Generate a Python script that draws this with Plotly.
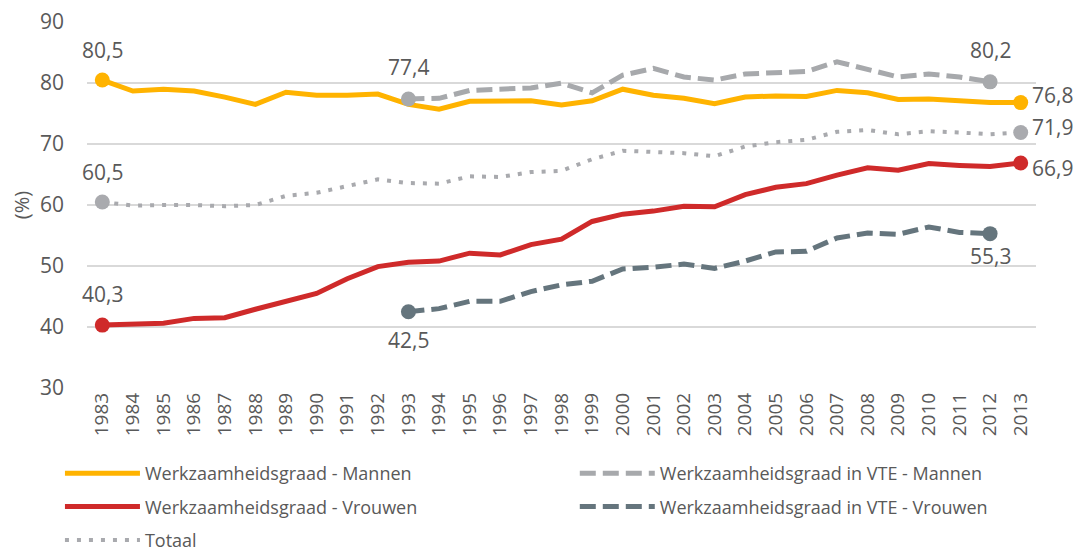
import plotly.graph_objects as go

years = [str(y) for y in range(1983, 2014)]
years_vte = [str(y) for y in range(1993, 2013)]

mannen = [80.5, 78.7, 79.0, 78.7, 77.7, 76.5, 78.5, 78.0, 78.0, 78.2, 76.5, 75.7, 77.0, 77.0, 77.1, 76.4, 77.1,
          79.0, 78.0, 77.5, 76.6, 77.7, 77.9, 77.8, 78.8, 78.4, 77.3, 77.4, 77.1, 76.8, 76.8]
vrouwen = [40.3, 40.5, 40.6, 41.4, 41.5, 42.9, 44.1, 45.5, 47.9, 49.9, 50.6, 50.8, 52.1, 51.8, 53.5, 54.4, 57.3,
           58.5, 59.0, 59.8, 59.7, 61.7, 62.9, 63.5, 64.9, 66.1, 65.7, 66.8, 66.5, 66.3, 66.9]
totaal = [60.5, 59.9, 60.0, 60.0, 59.8, 60.0, 61.5, 62.0, 63.1, 64.2, 63.6, 63.5, 64.7, 64.6, 65.4, 65.6, 67.5,
          68.9, 68.7, 68.5, 68.0, 69.6, 70.3, 70.7, 72.0, 72.3, 71.6, 72.1, 71.9, 71.6, 71.9]
vte_mannen = [77.4, 77.5, 78.8, 79.1, 79.2, 80.0, 78.4, 81.3, 82.4, 81.0, 80.5, 81.5, 81.6, 81.9, 83.5, 82.2,
              81.0, 81.5, 81.0, 80.2]
vte_vrouwen = [42.5, 43.0, 44.2, 44.2, 45.8, 46.9, 47.5, 49.5, 49.8, 50.3, 49.6, 50.8, 52.3, 52.4, 54.6, 55.4,
               55.2, 56.4, 55.5, 55.3]
y_ticks = [30, 40, 50, 60, 70, 80, 90]

names = {
    "m": "Werkzaamheidsgraad - Mannen",
    "vm": "Werkzaamheidsgraad in VTE - Mannen",
    "v": "Werkzaamheidsgraad - Vrouwen",
    "vv": "Werkzaamheidsgraad in VTE - Vrouwen",
    "t": "Totaal",
}

YELLOW = "#FFB300"
RED = "#CF2A2A"
LGREY = "#A7A9AC"
DGREY = "#65757D"
DOTGREY = "#A9AAAE"
TXT = "#595959"
FONT = "Open Sans"


def fmt(v):
    return f"{v:.1f}".replace(".", ",")


fig = go.Figure()

series = [
    # x, y, key, color, dash, width, legend, label offsets (first, last): (xshift, yshift, xanchor)
    (years, mannen, "m", YELLOW, "solid", 5, "legend", (0, 30, "center"), (10, 8, "left")),
    (years_vte, vte_mannen, "vm", LGREY, "16px,7px", 5, "legend2", (0, 32, "center"), (0, 32, "center")),
    (years, vrouwen, "v", RED, "solid", 5, "legend", (0, 31, "center"), (10, -5, "left")),
    (years_vte, vte_vrouwen, "vv", DGREY, "16px,7px", 5, "legend2", (0, -28, "center"), (0, -22, "center")),
    (years, totaal, "t", DOTGREY, "4px,8px", 4, "legend", (0, 30, "center"), (10, 5, "left")),
]

for x, y, key, color, dash, width, leg, a0, a1 in series:
    fig.add_trace(go.Scatter(
        x=x, y=y, name=names[key], mode="lines",
        line=dict(color=color, width=width, dash=dash),
        legend=leg, legendgroup=key,
    ))

for x, y, key, color, dash, width, leg, a0, a1 in series:
    fig.add_trace(go.Scatter(
        x=[x[0], x[-1]], y=[y[0], y[-1]], mode="markers", showlegend=False,
        marker=dict(color=color, size=15),
        legendgroup=key, cliponaxis=False, hoverinfo="skip",
    ))
    for idx, (xs, ys, xa) in ((0, a0), (-1, a1)):
        # annotations on a category axis are placed by category index
        fig.add_annotation(
            x=years.index(x[idx]), y=y[idx], xref="x", yref="y",
            text=fmt(y[idx]), showarrow=False, borderpad=0,
            xshift=xs, yshift=ys, xanchor=xa, yanchor="middle",
            font=dict(family=FONT, size=21, color=TXT),
        )

legend_common = dict(
    orientation="v", bgcolor="rgba(0,0,0,0)", font=dict(family=FONT, size=18, color=TXT),
    tracegroupgap=7, itemwidth=75, yanchor="top", xanchor="left", traceorder="grouped",
)

# The page body adds an 8px offset; the figure is sized so the plot area lands
# at the reference position inside the 1081x554 window.
fig.update_layout(
    width=1073, height=546,
    margin=dict(l=79, r=45, t=14, b=166, autoexpand=False),
    paper_bgcolor="white", plot_bgcolor="white",
    font=dict(family=FONT, size=18, color=TXT),
    xaxis=dict(
        type="category", range=[-0.5, len(years) - 0.5], tickangle=-90,
        showgrid=False, showline=False, ticks="", automargin=False,
        tickfont=dict(family=FONT, size=19, color=TXT),
    ),
    yaxis=dict(
        range=[29.98, 90.02], tickmode="array", tickvals=y_ticks, ticktext=[str(v) for v in y_ticks],
        showgrid=True, gridcolor="#D9D9D9", gridwidth=1.5, ticklabeloverflow="allow",
        zeroline=False, showline=False, ticks="", ticklabelstandoff=22, automargin=False,
        tickfont=dict(family=FONT, size=21, color=TXT),
        title=dict(text="(%)", font=dict(family=FONT, size=20, color=TXT), standoff=8),
    ),
    showlegend=True,
    legend=dict(x=-0.0285, y=-0.183, **legend_common),
    legend2=dict(x=0.514, y=-0.183, **legend_common),
)

fig.write_html("out.html")
